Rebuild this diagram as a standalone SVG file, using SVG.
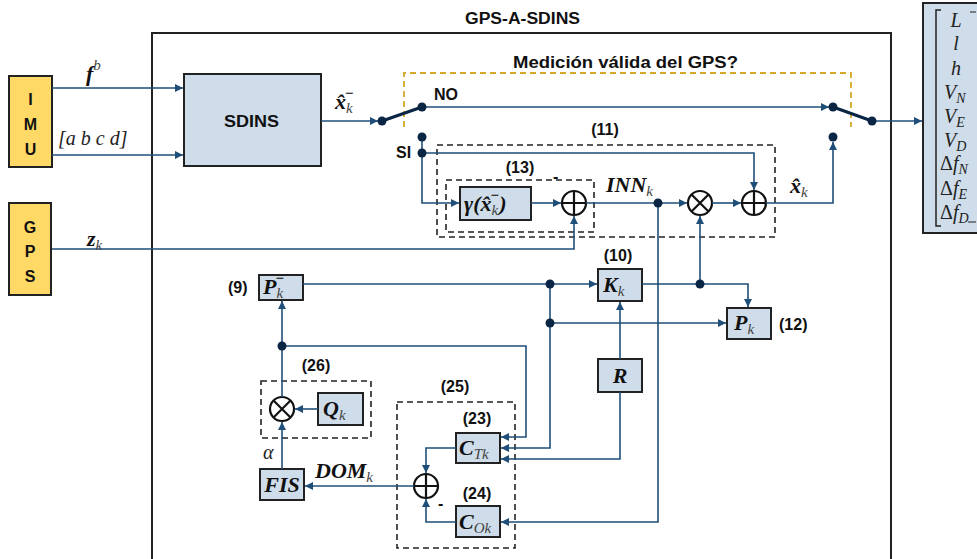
<svg xmlns="http://www.w3.org/2000/svg" width="977" height="559" viewBox="0 0 977 559">
<defs>
<marker id="ar" markerUnits="userSpaceOnUse" markerWidth="9" markerHeight="9" refX="8" refY="4" orient="auto">
<path d="M0,0 L8,4 L0,8 z" fill="#1F4E79"/>
</marker>
<style>
.ln{fill:none;stroke:#1F4E79;stroke-width:1.6}
.dot{fill:#0B2545}
.blade{stroke:#0B2545;stroke-width:3;stroke-linecap:round}
.blk{fill:#CFDDEA;stroke:#222;stroke-width:2}
.yel{fill:#FFD966;stroke:#222;stroke-width:2}
.dash{fill:none;stroke:#222;stroke-width:1.6;stroke-dasharray:6 4}
.gold{fill:none;stroke:#D4A82A;stroke-width:1.8;stroke-dasharray:6 4}
.lbl{font-family:"Liberation Sans",Arial,sans-serif;font-weight:bold;font-size:16px;fill:#111}
.m{font-family:"Liberation Serif","Times New Roman",serif;font-style:italic;font-weight:bold;font-size:22px;fill:#111}
.s{font-weight:normal;font-size:15px;fill:#444}
.v{font-family:"Liberation Serif","Times New Roman",serif;font-style:italic;font-size:20px;fill:#222}
.vs{font-size:14px}
.op{fill:#fff;stroke:#111;stroke-width:2.2}
.opl{stroke:#111;stroke-width:2.2}
</style>
</defs>
<rect width="977" height="559" fill="#fff"/>

<g id="main-frame">
<path d="M152,565 V33 H891 V565" fill="none" stroke="#222" stroke-width="2"/>
<text class="lbl" x="465" y="24" font-size="17" textLength="115" lengthAdjust="spacingAndGlyphs">GPS-A-SDINS</text>
</g>

<g id="gps-valid">
<path class="gold" d="M404,127 V73 H851 V127"/>
<text class="lbl" x="513" y="68" font-size="19" textLength="225" lengthAdjust="spacingAndGlyphs">Medición válida del GPS?</text>
</g>

<g id="imu">
<rect class="yel" x="9" y="76" width="43" height="91"/>
<text class="lbl" x="30.5" y="105" text-anchor="middle" font-size="18">I</text>
<text class="lbl" x="30.5" y="130" text-anchor="middle" font-size="18">M</text>
<text class="lbl" x="30.5" y="155" text-anchor="middle" font-size="18">U</text>
</g>

<g id="gps">
<rect class="yel" x="9" y="203" width="42" height="92"/>
<text class="lbl" x="30" y="233" text-anchor="middle" font-size="18">G</text>
<text class="lbl" x="30" y="257" text-anchor="middle" font-size="18">P</text>
<text class="lbl" x="30" y="282" text-anchor="middle" font-size="18">S</text>
</g>

<g id="sdins">
<rect class="blk" x="184" y="74" width="137" height="92"/>
<text class="lbl" x="224" y="127" font-size="18" textLength="55" lengthAdjust="spacingAndGlyphs">SDINS</text>
</g>

<g id="output-vector">
<rect class="blk" x="923" y="3" width="60" height="230"/>
<path d="M941,10 H936 V226 H941" fill="none" stroke="#222" stroke-width="1.5"/>
<path d="M970,12 H976 M968,222 H976" fill="none" stroke="#222" stroke-width="1.2"/>
<text class="v" x="956" y="27" text-anchor="middle">L</text>
<text class="v" x="956" y="50" text-anchor="middle">l</text>
<text class="v" x="956" y="75" text-anchor="middle">h</text>
<text class="v" x="944" y="99">V<tspan class="vs" dy="4">N</tspan></text>
<text class="v" x="944" y="123">V<tspan class="vs" dy="4">E</tspan></text>
<text class="v" x="944" y="147">V<tspan class="vs" dy="4">D</tspan></text>
<text class="v" x="940" y="170"><tspan font-style="normal">Δ</tspan>f<tspan class="vs" dy="4">N</tspan></text>
<text class="v" x="940" y="195"><tspan font-style="normal">Δ</tspan>f<tspan class="vs" dy="4">E</tspan></text>
<text class="v" x="940" y="219"><tspan font-style="normal">Δ</tspan>f<tspan class="vs" dy="4">D</tspan></text>
</g>

<g id="gamma">
<rect class="blk" x="460" y="187" width="71" height="33"/>
<text class="m" x="464" y="211" font-size="21">γ(x̂<tspan class="s" dy="4">k</tspan><tspan font-size="15" dx="-8" dy="-15">−</tspan><tspan dy="11">)</tspan></text>
</g>

<g id="sum13">
<circle class="op" cx="574" cy="203" r="12"/>
<path class="opl" d="M562,203 H586 M574,191 V215"/>
<text class="lbl" x="553" y="182" font-size="15">-</text>
</g>

<g id="mult11">
<circle class="op" cx="700" cy="203" r="12"/>
<path class="opl" d="M691.5,194.5 L708.5,211.5 M708.5,194.5 L691.5,211.5"/>
</g>

<g id="sum11">
<circle class="op" cx="754" cy="203" r="12"/>
<path class="opl" d="M742,203 H766 M754,191 V215"/>
</g>

<g id="pminus">
<rect class="blk" x="259" y="275" width="44" height="25"/>
<text class="m" x="263" y="294">P<tspan class="s" dy="4">k</tspan><tspan font-size="15" dx="-8" dy="-15">−</tspan></text>
<text class="lbl" x="228" y="293">(9)</text>
</g>

<g id="kk">
<rect class="blk" x="598" y="269" width="44" height="32"/>
<text class="m" x="603" y="292">K<tspan class="s" dy="4">k</tspan></text>
<text class="lbl" x="618" y="261" text-anchor="middle">(10)</text>
</g>

<g id="pk">
<rect class="blk" x="727" y="308" width="44" height="31"/>
<text class="m" x="734" y="330">P<tspan class="s" dy="4">k</tspan></text>
<text class="lbl" x="779" y="330">(12)</text>
</g>

<g id="r">
<rect class="blk" x="598" y="359" width="44" height="33"/>
<text class="m" x="620" y="383" text-anchor="middle">R</text>
</g>

<g id="group26">
<rect class="dash" x="261" y="381" width="110" height="57"/>
<text class="lbl" x="316" y="371" text-anchor="middle">(26)</text>
<circle class="op" cx="282" cy="409" r="12"/>
<path class="opl" d="M273.5,400.5 L290.5,417.5 M290.5,400.5 L273.5,417.5"/>
</g>

<g id="qk">
<rect class="blk" x="318" y="393" width="45" height="32"/>
<text class="m" x="323" y="416">Q<tspan class="s" dy="4">k</tspan></text>
</g>

<g id="fis">
<rect class="blk" x="260" y="469" width="44" height="31"/>
<text class="m" x="282" y="492" text-anchor="middle">FIS</text>
<text class="v" x="263" y="459" fill="#333">α</text>
</g>

<g id="group25">
<rect class="dash" x="397" y="402" width="118" height="146"/>
<text class="lbl" x="455" y="392" text-anchor="middle">(25)</text>
<circle class="op" cx="426" cy="486" r="12"/>
<path class="opl" d="M414,486 H438 M426,474 V498"/>
<text class="lbl" x="438" y="509" font-size="15">-</text>
</g>

<g id="ctk">
<rect class="blk" x="456" y="433" width="44" height="30"/>
<text class="m" x="459" y="455">C<tspan class="s" dy="4">Tk</tspan></text>
<text class="lbl" x="477" y="424" text-anchor="middle">(23)</text>
</g>

<g id="cok">
<rect class="blk" x="456" y="506" width="44" height="31"/>
<text class="m" x="459" y="529">C<tspan class="s" dy="4">Ok</tspan></text>
<text class="lbl" x="477" y="499" text-anchor="middle">(24)</text>
</g>

<g id="groups-11-13">
<rect class="dash" x="437" y="145" width="338" height="92"/>
<rect class="dash" x="446" y="180" width="148" height="52"/>
<text class="lbl" x="605" y="135" text-anchor="middle">(11)</text>
<text class="lbl" x="520" y="173" text-anchor="middle">(13)</text>
</g>

<g id="connectors">
<path class="ln" d="M52,88 H183" marker-end="url(#ar)"/>
<path class="ln" d="M52,155 H183" marker-end="url(#ar)"/>
<path class="ln" d="M321,121 H378" marker-end="url(#ar)"/>
<path class="ln" d="M422,107 H829" marker-end="url(#ar)"/>
<path class="ln" d="M872,121 H922" marker-end="url(#ar)"/>
<path class="ln" d="M422,137 V153"/>
<path class="ln" d="M422,153 V203 H459" marker-end="url(#ar)"/>
<path class="ln" d="M422,153 H754 V190" marker-end="url(#ar)"/>
<path class="ln" d="M531,203 H561" marker-end="url(#ar)"/>
<path class="ln" d="M52,249 H574 V216" marker-end="url(#ar)"/>
<path class="ln" d="M586,203 H687" marker-end="url(#ar)"/>
<path class="ln" d="M712,203 H741" marker-end="url(#ar)"/>
<path class="ln" d="M766,203 H833 V142" marker-end="url(#ar)"/>
<path class="ln" d="M303,284 H597" marker-end="url(#ar)"/>
<path class="ln" d="M642,284 H748 V307" marker-end="url(#ar)"/>
<path class="ln" d="M700,284 V216" marker-end="url(#ar)"/>
<path class="ln" d="M550,284 V323"/>
<path class="ln" d="M550,323 H726" marker-end="url(#ar)"/>
<path class="ln" d="M550,323 V448 H501" marker-end="url(#ar)"/>
<path class="ln" d="M658,203 V522 H501" marker-end="url(#ar)"/>
<path class="ln" d="M620,359 V302" marker-end="url(#ar)"/>
<path class="ln" d="M620,392 V459 H501" marker-end="url(#ar)"/>
<path class="ln" d="M282,346 H526 V437 H501" marker-end="url(#ar)"/>
<path class="ln" d="M282,397 V301" marker-end="url(#ar)"/>
<path class="ln" d="M318,409 H295" marker-end="url(#ar)"/>
<path class="ln" d="M282,469 V422" marker-end="url(#ar)"/>
<path class="ln" d="M456,448 H426 V473" marker-end="url(#ar)"/>
<path class="ln" d="M456,522 H426 V499" marker-end="url(#ar)"/>
<path class="ln" d="M414,486 H305" marker-end="url(#ar)"/>
<line class="blade" x1="382" y1="121" x2="422" y2="107"/>
<line class="blade" x1="833" y1="107" x2="872" y2="121"/>
<circle class="dot" cx="382" cy="121" r="4.5"/>
<circle class="dot" cx="422" cy="107" r="4.5"/>
<circle class="dot" cx="422" cy="137" r="4.5"/>
<circle class="dot" cx="422" cy="153" r="4.5"/>
<circle class="dot" cx="833" cy="107" r="4.5"/>
<circle class="dot" cx="872" cy="121" r="4.5"/>
<circle class="dot" cx="833" cy="137" r="4.5"/>
<circle class="dot" cx="658" cy="203" r="4.5"/>
<circle class="dot" cx="550" cy="284" r="4.5"/>
<circle class="dot" cx="550" cy="323" r="4.5"/>
<circle class="dot" cx="700" cy="284" r="4.5"/>
<circle class="dot" cx="282" cy="346" r="4.5"/>
</g>

<g id="labels">
<text class="m" x="86" y="81" font-size="24">f<tspan class="s" dy="-11" font-size="16">b</tspan></text>
<text class="v" x="58" y="145" font-size="21" fill="#555">[a b c d]</text>
<text class="m" x="87" y="246" font-style="normal">z<tspan class="s" font-style="italic" dy="4">k</tspan></text>
<text class="m" x="335" y="109">x̂<tspan class="s" dy="4">k</tspan><tspan font-size="15" dx="-8" dy="-15">−</tspan></text>
<text class="lbl" x="434" y="100" font-size="17">NO</text>
<text class="lbl" x="396" y="158" font-size="17">SI</text>
<text class="m" x="606" y="192">INN<tspan class="s" dy="4">k</tspan></text>
<text class="m" x="790" y="193">x̂<tspan class="s" dy="4">k</tspan></text>
<text class="m" x="315" y="478">DOM<tspan class="s" dy="4">k</tspan></text>
</g>
</svg>
